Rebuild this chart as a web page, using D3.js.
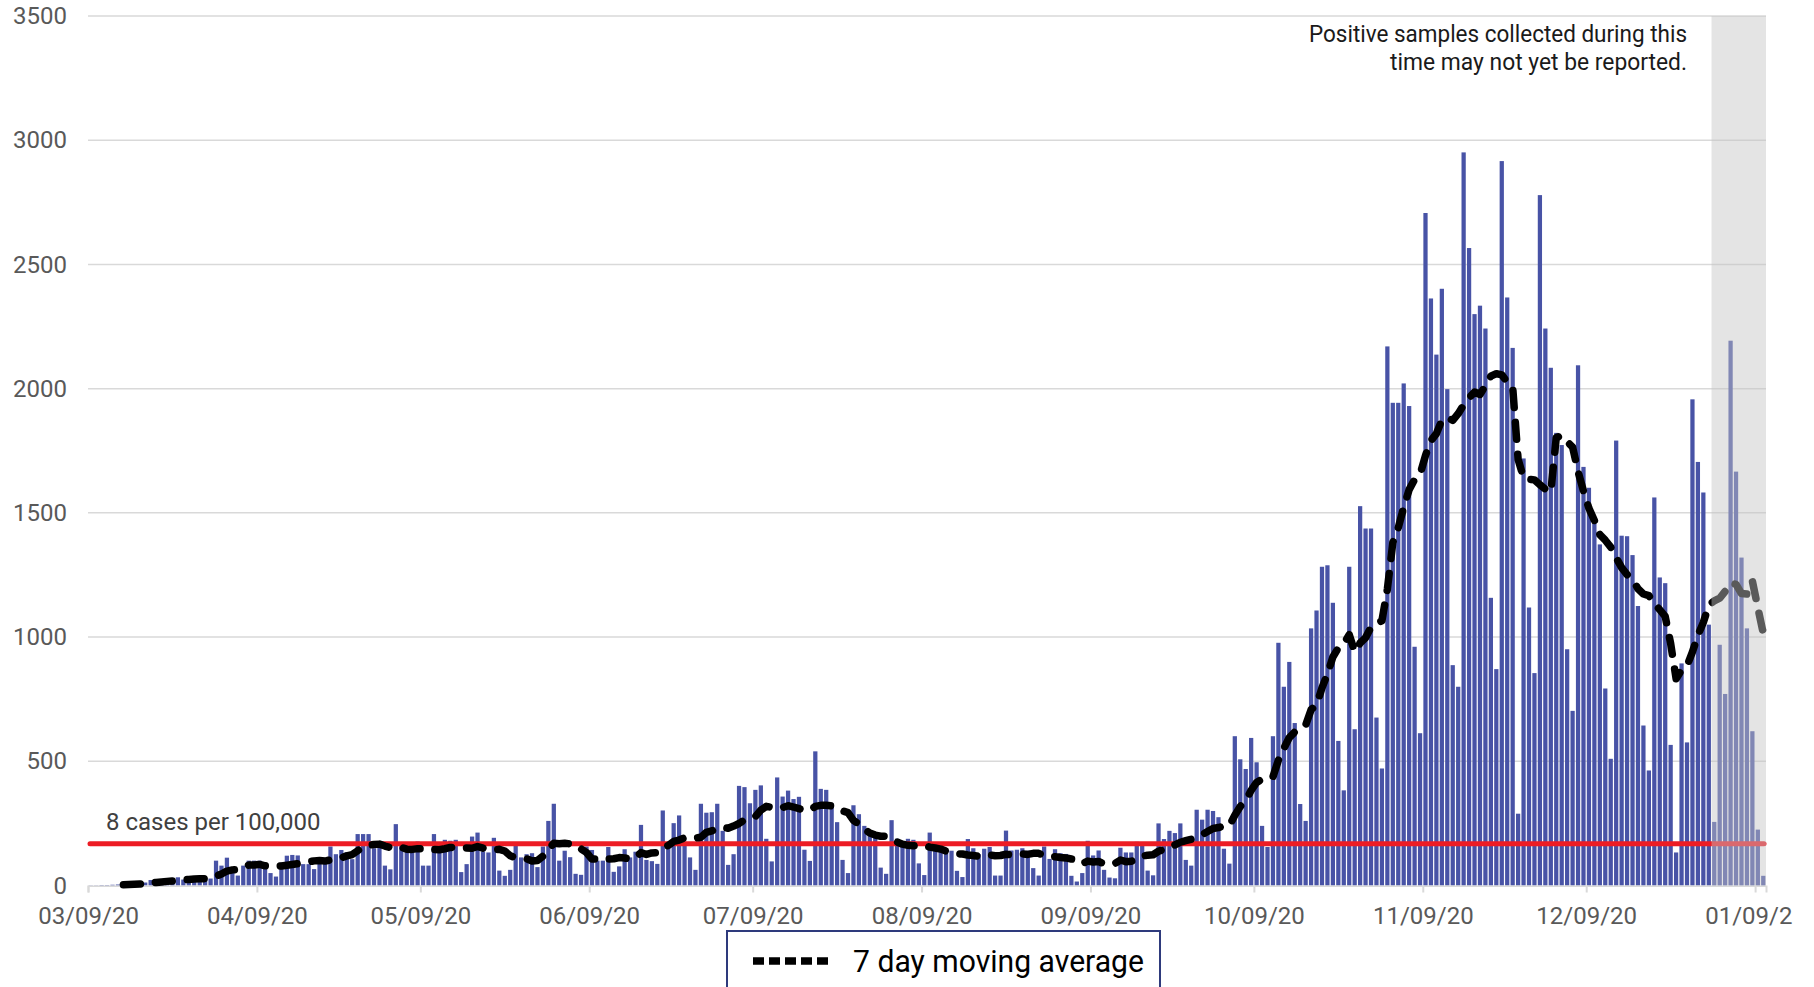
<!DOCTYPE html>
<html>
<head>
<meta charset="utf-8">
<script src="https://cdn.jsdelivr.net/npm/d3@7"></script>
<style>
  body { margin: 0; background: #fff; }
  svg { display: block; }
</style>
</head>
<body>
<svg id="chart" width="1814" height="987"></svg>
<script>
// daily positive cases, one value per day starting 03/09/20
const startDay = '2020-03-09'
const cases = [
  1, 1, 2, 2, 3, 4, 6, 8, 10, 10, 12, 22, 18, 20, 24, 22, 33, 24, 28, 30, 27, 30, 28,
  100, 80, 112, 63, 40, 80, 100, 100, 100, 72,
  50, 36, 92, 120, 123, 121, 86, 86, 66, 100,
  107, 157, 126, 143, 134, 106, 207, 207, 207, 150,
  155, 80, 65, 247, 170, 157, 143, 177, 80, 80,
  207, 164, 184, 180, 184, 54, 86, 197, 213, 137,
  133, 192, 60, 39, 63, 160, 113, 126, 130, 74,
  157, 260, 329, 100, 140, 114, 47, 43, 157, 143,
  100, 100,
  155, 55, 77, 146, 113, 136, 244, 103, 98, 87,
  302, 157, 251, 282, 166, 113, 63, 329, 293, 295,
  329, 220, 83, 126, 401, 396, 331, 385, 403, 188,
  97, 435, 358, 382, 348, 357, 144, 99, 540, 389,
  385, 330, 255, 103, 50, 323, 287, 240, 220, 197,
  72, 47, 263, 188, 177, 188, 184, 89, 42, 213,
  164, 146, 130, 140, 59, 34, 187, 150, 126, 148,
  155, 40, 40, 221, 141, 144, 150, 140, 70, 40,
  157, 107, 146, 130, 127, 39, 16, 50, 180, 121,
  141, 63, 32, 29,
  152, 133, 133, 176, 172, 60, 41, 250, 187, 220,
  211, 250, 103, 80, 305, 265, 305, 300, 275, 148,
  88, 601, 508, 469, 594, 496, 240, 155, 601, 977,
  800, 900, 654, 328, 260, 1035, 1107, 1283, 1289, 1138,
  582, 383, 1283, 629, 1527, 1437, 1437, 676, 471, 2170,
  1943, 1943, 2021, 1930, 961, 613, 2707, 2363, 2137, 2402,
  1998, 887, 800,
  2951, 2566, 2300, 2334, 2242, 1158, 871, 2916, 2367, 2164,
  289, 1719, 1119, 855, 2779, 2242, 2084, 1822, 1773, 951,
  703, 2094, 1685, 1601, 1480, 1373, 793, 510, 1791, 1408,
  1406, 1330, 1125, 644, 463, 1562, 1240, 1217, 566, 133,
  894, 576, 1957, 1705, 1582, 1050, 256, 969, 771, 2193,
  1666, 1320, 1035, 621, 225, 39
]
const yTicks = [0, 500, 1000, 1500, 2000, 2500, 3000, 3500]
const xTickDates = ['2020-03-09', '2020-04-09', '2020-05-09', '2020-06-09', '2020-07-09',
  '2020-08-09', '2020-09-09', '2020-10-09', '2020-11-09', '2020-12-09', '2021-01-09']
const xTickLabels = ['03/09/20', '04/09/20', '05/09/20', '06/09/20', '07/09/20',
  '08/09/20', '09/09/20', '10/09/20', '11/09/20', '12/09/20', '01/09/21']
const threshold = 168            // 8 cases per 100,000
const thresholdLabel = '8 cases per 100,000'
const pendingFrom = '2021-01-01' // shaded: not yet reported
const noteLines = ['Positive samples collected during this', 'time may not yet be reported.']
const legendLabel = '7 day moving average'

const parse = d3.timeParse('%Y-%m-%d')
const day0 = parse(startDay)
const data = cases.map((v, i) => ({ date: d3.timeDay.offset(day0, i), cases: v }))
// trailing 7 day average, like the spreadsheet trendline
const avg = data.slice(6).map((d, k) => ({
  date: d.date,
  value: d3.mean(cases.slice(k, k + 7))
}))

const svg = d3.select('#chart')
const plotLeft = 88, plotRight = 1766, plotTop = 16, plotBottom = 885.5

const x = d3.scaleTime()
  .domain([day0, d3.timeDay.offset(day0, cases.length)])
  .range([plotLeft, plotRight])
const y = d3.scaleLinear().domain([0, 3500]).range([plotBottom, plotTop])
const slot = x(d3.timeDay.offset(day0, 1)) - x(day0)

// gridlines
svg.append('g')
  .selectAll('line')
  .data(yTicks.slice(1))
  .join('line')
  .attr('x1', plotLeft).attr('x2', plotRight)
  .attr('y1', d => y(d)).attr('y2', d => y(d))
  .attr('stroke', '#d9d9d9').attr('stroke-width', 1.5)

// y axis labels
const yAxis = svg.append('g')
  .attr('transform', `translate(${plotLeft - 21},0)`)
  .call(d3.axisLeft(y).tickValues(yTicks).tickFormat(d3.format('d')).tickSize(0).tickPadding(0))
yAxis.select('.domain').remove()
yAxis.selectAll('text')
  .attr('font-family', 'Roboto, sans-serif')
  .attr('font-size', 24)
  .attr('fill', '#595959')

// bars
svg.append('g')
  .selectAll('rect')
  .data(data)
  .join('rect')
  .attr('x', d => x(d.date) + 0.6)
  .attr('width', slot - 1.2)
  .attr('y', d => y(d.cases))
  .attr('height', d => y(0) - y(d.cases))
  .attr('fill', '#4853a6')

// x axis
const xAxis = svg.append('g')
  .attr('transform', `translate(0,${plotBottom})`)
  .call(d3.axisBottom(x)
    .tickValues(xTickDates.map(parse))
    .tickFormat((d, i) => xTickLabels[i])
    .tickSizeOuter(0)
    .tickSize(7)
    .tickPadding(14))
xAxis.select('.domain').attr('stroke', '#d9d9d9').attr('stroke-width', 2)
xAxis.selectAll('.tick line').attr('stroke', '#d9d9d9').attr('stroke-width', 2)
xAxis.selectAll('text')
  .attr('font-family', 'Roboto, sans-serif')
  .attr('font-size', 24)
  .attr('fill', '#595959')
// the last date label runs off the right edge of the picture
svg.append('clipPath').attr('id', 'edge')
  .append('rect').attr('x', 0).attr('y', 0).attr('width', 1793).attr('height', 987)
xAxis.attr('clip-path', 'url(#edge)')

// threshold line
svg.append('line')
  .attr('x1', plotLeft + 2).attr('x2', plotRight - 2)
  .attr('y1', y(threshold)).attr('y2', y(threshold))
  .attr('stroke', '#ed1c24').attr('stroke-width', 5)
  .attr('stroke-linecap', 'round')
svg.append('text')
  .attr('x', 106).attr('y', 830)
  .attr('font-family', 'Roboto, sans-serif')
  .attr('font-size', 24)
  .attr('fill', '#404040')
  .text(thresholdLabel)

// moving average
svg.append('path')
  .datum(avg)
  .attr('fill', 'none')
  .attr('stroke', '#000')
  .attr('stroke-width', 7.5)
  .attr('stroke-linecap', 'round')
  .attr('stroke-linejoin', 'round')
  .attr('stroke-dasharray', '17 15')
  .attr('d', d3.line()
    .x(d => x(d.date) + slot / 2)
    .y(d => y(d.value)))

// shaded pending period
svg.append('rect')
  .attr('x', x(parse(pendingFrom)))
  .attr('width', plotRight - x(parse(pendingFrom)))
  .attr('y', plotTop)
  .attr('height', plotBottom - plotTop)
  .attr('fill', '#c4c4c4')
  .attr('opacity', 0.46)

const condensed = '"Liberation Sans Narrow", "Arial Narrow", Roboto, sans-serif'
svg.append('g')
  .selectAll('text')
  .data(noteLines)
  .join('text')
  .attr('x', 1687)
  .attr('y', (d, i) => 41.5 + i * 28)
  .attr('text-anchor', 'end')
  .attr('font-family', condensed)
  .attr('font-size', 23)
  .attr('fill', '#1a1a1a')
  .attr('textLength', (d, i) => i === 0 ? 378 : 297)
  .attr('lengthAdjust', 'spacingAndGlyphs')
  .text(d => d)

// legend
const legend = svg.append('g')
legend.append('rect')
  .attr('x', 727).attr('y', 931)
  .attr('width', 433).attr('height', 80)
  .attr('fill', '#fff')
  .attr('stroke', '#2e3a7c').attr('stroke-width', 2)
legend.append('line')
  .attr('x1', 753).attr('x2', 833)
  .attr('y1', 961).attr('y2', 961)
  .attr('stroke', '#000').attr('stroke-width', 7.5)
  .attr('stroke-dasharray', '11 5')
legend.append('text')
  .attr('x', 853).attr('y', 971.5)
  .attr('font-family', condensed)
  .attr('font-size', 31)
  .attr('fill', '#000')
  .attr('textLength', 291)
  .attr('lengthAdjust', 'spacingAndGlyphs')
  .text(legendLabel)
</script>
</body>
</html>
